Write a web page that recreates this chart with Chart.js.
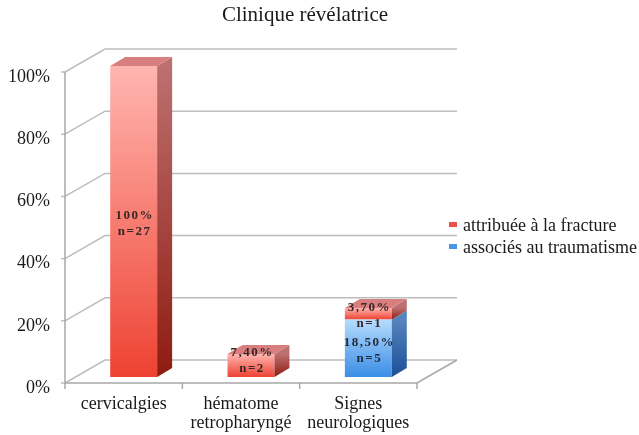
<!DOCTYPE html>
<html>
<head>
<meta charset="utf-8">
<script src="https://cdn.jsdelivr.net/npm/chart.js@4.4.1/dist/chart.umd.min.js"></script>
<style>
  html, body { margin: 0; padding: 0; background: #fff; }
  #wrap { width: 639px; height: 435px; }
</style>
</head>
<body>
<div id="wrap"><canvas id="chart"></canvas></div>
<script>
const categories = ['cervicalgies', ['hématome', 'retropharyngé'], ['Signes', 'neurologiques']];
const fractureValues = [100, 7.4, 3.7];
const traumaValues = [null, null, 18.5];
const fractureCounts = [27, 2, 1];
const traumaCounts = [null, null, 5];
const yTicks = [0, 20, 40, 60, 80, 100];

const FONT = "'Liberation Serif', 'Times New Roman', serif";
const FRONT = { x: -10, y: 6 };     // floor front edge, relative to bar fronts
const DEPTH = { x: 40, y: -23 };    // depth of floor / walls
const BAR_DEPTH = { x: 15, y: -9 };

const pal = {
  red: { light: '#ffb6b0', dark: '#ee4232', sideTop: '#bd7070', sideBot: '#8e1b10', top: '#d97e7e', legend: '#f04e48', text: '#3b2626' },
  blue: { light: '#b6dcfd', dark: '#3a8de6', sideTop: '#5585bd', sideBot: '#1b4f97', top: '#80b0e0', legend: '#4a94e6', text: '#1f2a3a' }
};

function pct(v) {
  return Number.isInteger(v) ? v + '%' : v.toFixed(2).replace('.', ',') + '%';
}

// start / end value of a stacked segment
function segment(chart, d, i) {
  let start = 0;
  for (let k = 0; k < d; k++) start += chart.data.datasets[k].data[i] || 0;
  return [start, start + (chart.data.datasets[d].data[i] || 0)];
}

function frontFill(p) {
  return (c) => {
    const y = c.chart.scales.y;
    if (c.type !== 'data' || !y) return p.dark;
    const [s, e] = segment(c.chart, c.datasetIndex, c.dataIndex);
    const y0 = y.getPixelForValue(s), y1 = y.getPixelForValue(e);
    if (!isFinite(y0) || !isFinite(y1) || y0 === y1) return p.dark;
    const g = c.chart.ctx.createLinearGradient(0, y1, 0, y0);
    g.addColorStop(0, p.light);
    g.addColorStop(1, p.dark);
    return g;
  };
}

const frame3d = {
  id: 'frame3d',
  beforeDatasetsDraw(chart) {
    const { ctx, scales: { x, y } } = chart;
    const x0 = x.getPixelForValue(-0.5) + FRONT.x;
    const x1 = x.getPixelForValue(categories.length - 0.5) + FRONT.x;
    const yb = y.getPixelForValue(0) + FRONT.y;
    const yt = y.getPixelForValue(100) + FRONT.y;
    ctx.save();
    ctx.lineWidth = 1.5;
    ctx.strokeStyle = '#bdbdbd';
    y.ticks.forEach(t => {
      const yf = y.getPixelForValue(t.value) + FRONT.y;
      ctx.beginPath();
      ctx.moveTo(x0, yf);
      ctx.lineTo(x0 + DEPTH.x, yf + DEPTH.y);
      ctx.lineTo(x1 + DEPTH.x, yf + DEPTH.y);
      ctx.stroke();
      ctx.beginPath();
      ctx.moveTo(x0 - 4, yf);
      ctx.lineTo(x0, yf);
      ctx.stroke();
    });
    ctx.strokeStyle = '#a8a8a8';
    ctx.beginPath();
    ctx.moveTo(x0, yt);
    ctx.lineTo(x0, yb);
    ctx.lineTo(x1, yb);
    ctx.lineTo(x1 + DEPTH.x, yb + DEPTH.y);
    ctx.stroke();
    for (let k = 0; k <= categories.length; k++) {
      const xt = x.getPixelForValue(k - 0.5) + FRONT.x;
      ctx.beginPath();
      ctx.moveTo(xt, yb);
      ctx.lineTo(xt, yb + 6);
      ctx.stroke();
    }
    ctx.restore();
  },
  afterDatasetsDraw(chart) {
    const { ctx } = chart;
    const sets = chart.data.datasets;
    ctx.save();
    sets.forEach((ds, d) => {
      const meta = chart.getDatasetMeta(d);
      meta.data.forEach((el, i) => {
        if (ds.data[i] == null) return;
        const l = el.x - el.width / 2, r = el.x + el.width / 2;
        const top = el.y, base = el.base;
        // side face
        const g = ctx.createLinearGradient(0, top, 0, base);
        g.addColorStop(0, ds.pal.sideTop);
        g.addColorStop(1, ds.pal.sideBot);
        ctx.fillStyle = g;
        ctx.beginPath();
        ctx.moveTo(r, top);
        ctx.lineTo(r + BAR_DEPTH.x, top + BAR_DEPTH.y);
        ctx.lineTo(r + BAR_DEPTH.x, base + BAR_DEPTH.y);
        ctx.lineTo(r, base);
        ctx.closePath();
        ctx.fill();
        // top face only for the upper segment
        const above = sets.some((o, k) => k > d && o.data[i] != null);
        if (!above) {
          ctx.fillStyle = ds.pal.top;
          ctx.beginPath();
          ctx.moveTo(l, top);
          ctx.lineTo(r, top);
          ctx.lineTo(r + BAR_DEPTH.x, top + BAR_DEPTH.y);
          ctx.lineTo(l + BAR_DEPTH.x, top + BAR_DEPTH.y);
          ctx.closePath();
          ctx.fill();
        }
      });
    });
    // value labels
    ctx.font = `bold 13px ${FONT}`;
    ctx.letterSpacing = '1.5px';
    ctx.textAlign = 'center';
    ctx.textBaseline = 'middle';
    sets.forEach((ds, d) => {
      const meta = chart.getDatasetMeta(d);
      meta.data.forEach((el, i) => {
        if (ds.data[i] == null) return;
        let cy = (el.y + el.base) / 2 + 2;
        const [s] = segment(chart, d, i);
        if (s === 0 && cy + 8 > el.base - 10) cy = el.base - 16;
        ctx.fillStyle = ds.pal.text;
        ctx.fillText(pct(ds.data[i]), el.x + 1, cy - 8);
        ctx.fillText('n=' + ds.counts[i], el.x + 1, cy + 8);
      });
    });
    ctx.restore();
  },
  afterDraw(chart) {
    const { ctx } = chart;
    ctx.save();
    ctx.fillStyle = '#1a1a1a';
    ctx.font = `21px ${FONT}`;
    ctx.textAlign = 'center';
    ctx.textBaseline = 'alphabetic';
    ctx.fillText('Clinique révélatrice', 305, 21);
    // legend, upper segment first
    ctx.font = `18px ${FONT}`;
    ctx.textAlign = 'left';
    const items = chart.data.datasets.slice().reverse();
    items.forEach((ds, k) => {
      const base = 231 + k * 22;
      ctx.fillStyle = ds.pal.legend;
      ctx.fillRect(449, base - 9, 8, 5);
      ctx.fillStyle = '#1a1a1a';
      ctx.fillText(ds.label, 463, base);
    });
    ctx.restore();
  }
};

new Chart(document.getElementById('chart'), {
  type: 'bar',
  data: {
    labels: categories,
    datasets: [
      { label: 'associés au traumatisme', data: traumaValues, counts: traumaCounts, pal: pal.blue,
        backgroundColor: frontFill(pal.blue), borderWidth: 0 },
      { label: 'attribuée à la fracture', data: fractureValues, counts: fractureCounts, pal: pal.red,
        backgroundColor: frontFill(pal.red), borderWidth: 0 }
    ]
  },
  options: {
    responsive: true,
    maintainAspectRatio: false,
    animation: false,
    events: [],
    layout: { padding: { top: 66, right: 212, bottom: 0, left: 0 } },
    datasets: { bar: { barPercentage: 0.4, categoryPercentage: 1 } },
    plugins: { legend: { display: false }, title: { display: false }, tooltip: { enabled: false } },
    scales: {
      x: {
        stacked: true,
        grid: { display: false, drawTicks: false },
        border: { display: false },
        afterFit: s => { s.height = 58; },
        ticks: {
          autoSkip: false, maxRotation: 0, padding: 18, labelOffset: -10,
          color: '#1a1a1a', font: { family: FONT, size: 18, lineHeight: 1.05 }
        }
      },
      y: {
        stacked: true,
        min: 0, max: 100,
        grid: { display: false, drawTicks: false },
        border: { display: false },
        afterFit: s => { s.width = 75; },
        afterBuildTicks: s => { s.ticks = yTicks.map(v => ({ value: v })); },
        ticks: {
          padding: 25, labelOffset: 11,
          callback: v => v + '%',
          color: '#1a1a1a', font: { family: FONT, size: 18 }
        }
      }
    }
  },
  plugins: [frame3d]
});
</script>
</body>
</html>
